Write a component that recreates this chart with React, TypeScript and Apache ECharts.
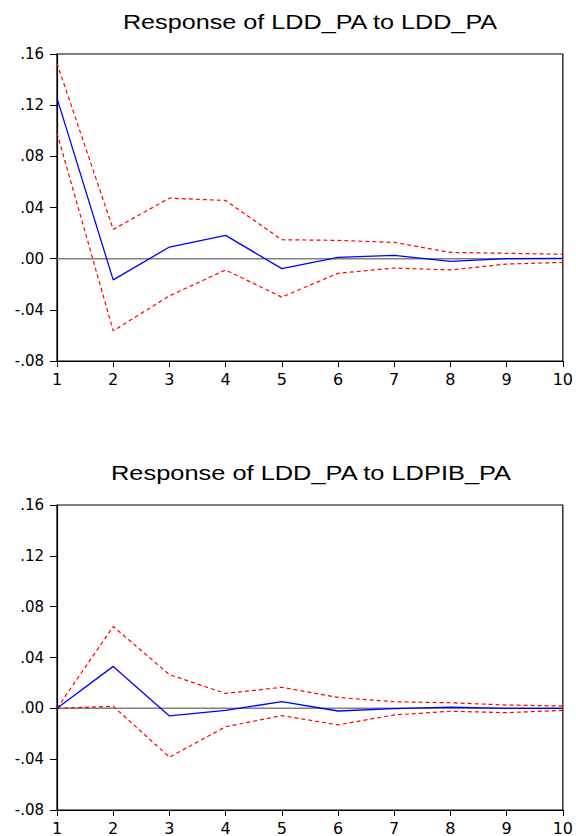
import React, { useEffect, useRef } from "react";
import * as echarts from "echarts";

const periods = [1, 2, 3, 4, 5, 6, 7, 8, 9, 10];
const yTicks = [-0.08, -0.04, 0.0, 0.04, 0.08, 0.12, 0.16];

const title1 = "Response of LDD_PA to LDD_PA";
const resp1 = [0.1255, -0.0166, 0.0091, 0.0182, -0.0078, 0.001, 0.0026, -0.0021, 0.0, 0.0003];
const upper1 = [0.1527, 0.0229, 0.0473, 0.0455, 0.0148, 0.0143, 0.0127, 0.0049, 0.0042, 0.0034];
const lower1 = [0.0982, -0.0564, -0.0291, -0.0088, -0.0301, -0.0114, -0.0073, -0.0088, -0.0042, -0.0029];

const title2 = "Response of LDD_PA to LDPIB_PA";
const resp2 = [0.0, 0.033, -0.006, -0.0016, 0.0052, -0.0021, -0.0002, 0.001, 0.0, 0.0];
const upper2 = [0.0, 0.0644, 0.0265, 0.0117, 0.0166, 0.0086, 0.0052, 0.0044, 0.0026, 0.0018];
const lower2 = [0.0, 0.0016, -0.0384, -0.0145, -0.0057, -0.013, -0.0052, -0.0023, -0.0034, -0.0016];

const FONT = "'Liberation Sans', Arial, Helvetica, sans-serif";
const AXFONT = "'DejaVu Sans', sans-serif";

function fmtY(v: number): string {
  const a = Math.round(Math.abs(v) * 100);
  const s = "." + String(a).padStart(2, "0");
  return v < -1e-9 ? "-" + s : s;
}

const pairs = (arr: number[]) => periods.map((p, i) => [p, arr[i]]);

export default function App() {
  const ref = useRef<HTMLDivElement>(null);
  useEffect(() => {
    if (!ref.current) return;
    const chart = echarts.init(ref.current, null, { renderer: "svg" });
    const grids = [
      { left: 57, top: 54, width: 506, height: 307 },
      { left: 57, top: 505, width: 506, height: 307 },
    ];
    const xAxes = grids.map((_, gi) => ({
      type: "value",
      gridIndex: gi,
      min: 1,
      max: 10,
      interval: 1,
      splitLine: { show: false },
      axisLine: { show: true, onZero: false, lineStyle: { color: "#000", width: 1.2 } },
      axisTick: { show: true, inside: false, length: 6, lineStyle: { color: "#000", width: 1 } },
      axisLabel: {
        show: true,
        margin: 10,
        color: "#000",
        fontSize: 16,
        fontFamily: AXFONT,
        showMinLabel: true,
        showMaxLabel: true,
      },
    }));
    const yAxes = grids.map((_, gi) => ({
      type: "value",
      gridIndex: gi,
      min: yTicks[0],
      max: yTicks[yTicks.length - 1],
      interval: 0.04,
      splitLine: { show: false },
      axisLine: { show: true, lineStyle: { color: "#000", width: 1.2 } },
      axisTick: { show: true, inside: false, length: 7, lineStyle: { color: "#000", width: 1 } },
      axisLabel: {
        show: true,
        margin: 13,
        color: "#000",
        fontSize: 15,
        fontFamily: AXFONT,
        formatter: (v: number) => fmtY(v),
      },
    }));
    const panels = [
      { resp: resp1, up: upper1, lo: lower1 },
      { resp: resp2, up: upper2, lo: lower2 },
    ];
    const series: any[] = [];
    panels.forEach((p, gi) => {
      series.push({
        type: "line",
        xAxisIndex: gi,
        yAxisIndex: gi,
        data: periods.map((x) => [x, 0]),
        symbol: "none",
        lineStyle: { color: "#808080", width: 1.5 },
        silent: true,
        z: 1,
      });
      series.push({
        type: "line",
        xAxisIndex: gi,
        yAxisIndex: gi,
        data: pairs(p.up),
        symbol: "none",
        lineStyle: { color: "#ff0000", width: 1.2, type: [4, 3] },
        z: 2,
      });
      series.push({
        type: "line",
        xAxisIndex: gi,
        yAxisIndex: gi,
        data: pairs(p.lo),
        symbol: "none",
        lineStyle: { color: "#ff0000", width: 1.2, type: [4, 3] },
        z: 2,
      });
      series.push({
        type: "line",
        xAxisIndex: gi,
        yAxisIndex: gi,
        data: pairs(p.resp),
        symbol: "none",
        lineStyle: { color: "#0000ff", width: 1.3 },
        z: 3,
      });
    });
    chart.setOption({
      animation: false,
      backgroundColor: "#fff",
      grid: grids.map((g) => ({
        ...g,
        show: true,
        borderColor: "#000",
        borderWidth: 1.2,
        backgroundColor: "transparent",
        containLabel: false,
      })),
      xAxis: xAxes,
      yAxis: yAxes,
      series,
      graphic: [
        {
          type: "text",
          x: 310,
          y: 22,
          scaleX: 1.26,
          style: {
            text: title1,
            fill: "#000",
            font: `20px ${FONT}`,
            textAlign: "center",
            textVerticalAlign: "middle",
          },
        },
        {
          type: "text",
          x: 311,
          y: 473,
          scaleX: 1.27,
          style: {
            text: title2,
            fill: "#000",
            font: `20px ${FONT}`,
            textAlign: "center",
            textVerticalAlign: "middle",
          },
        },
      ],
    });
    return () => chart.dispose();
  }, []);
  return (
    <div
      ref={ref}
      style={{ position: "fixed", left: 0, top: 0, width: 576, height: 836, background: "#fff" }}
    />
  );
}
